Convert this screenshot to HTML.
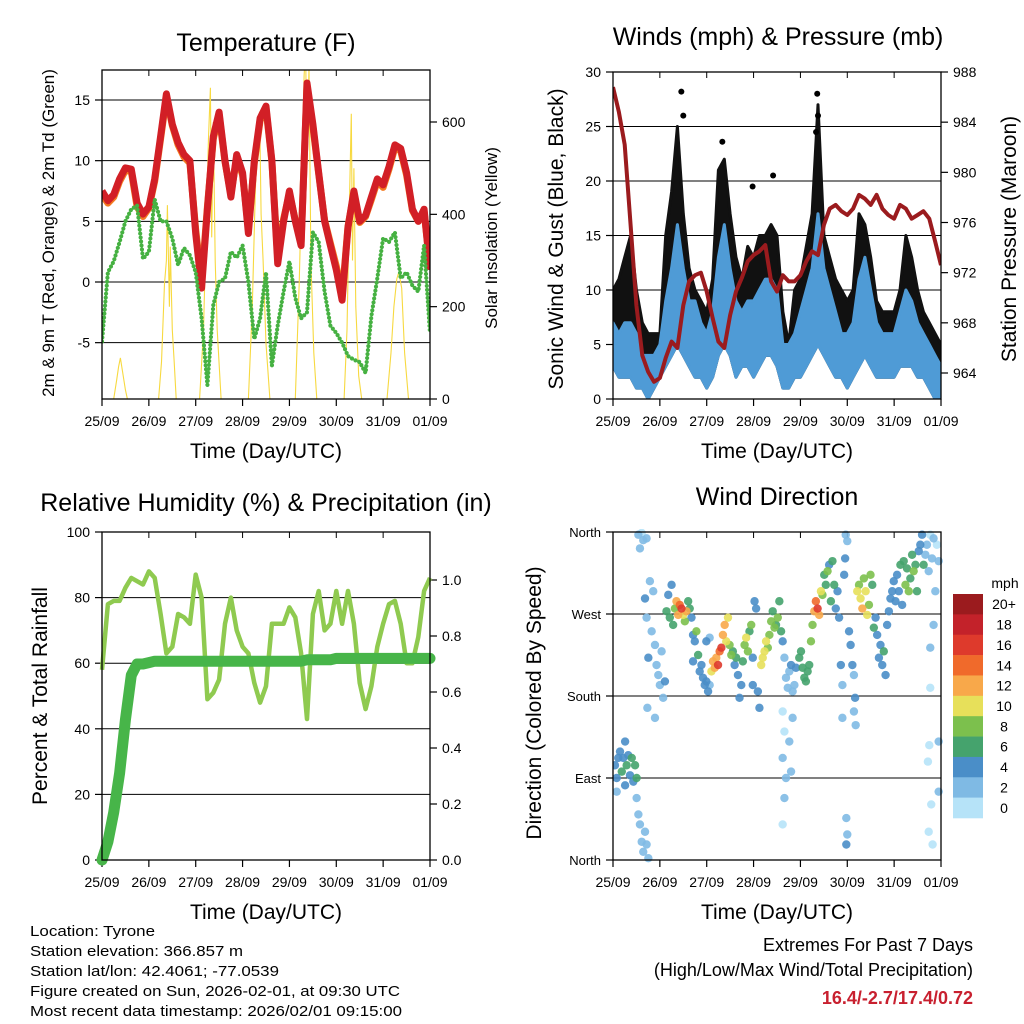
<!DOCTYPE html>
<html><head><meta charset="utf-8"><style>
html,body{margin:0;padding:0;background:#fff}
svg{display:block;font-family:"Liberation Sans",Arial,sans-serif}
</style></head><body>
<svg id="fig" width="1024" height="1024" viewBox="0 0 1024 1024" xmlns="http://www.w3.org/2000/svg">
<rect width="1024" height="1024" fill="#fff"/>
<g id="layer"></g>
<text x="266" y="51" font-size="25" text-anchor="middle">Temperature (F)</text>
<text x="778" y="45" font-size="25" text-anchor="middle">Winds (mph) &amp; Pressure (mb)</text>
<text x="266" y="511" font-size="25" text-anchor="middle">Relative Humidity (%) &amp; Precipitation (in)</text>
<text x="777" y="505" font-size="25" text-anchor="middle">Wind Direction</text>
<text x="266" y="458" font-size="21" text-anchor="middle">Time (Day/UTC)</text>
<text x="777" y="458" font-size="21" text-anchor="middle">Time (Day/UTC)</text>
<text x="266" y="919" font-size="21" text-anchor="middle">Time (Day/UTC)</text>
<text x="777" y="919" font-size="21" text-anchor="middle">Time (Day/UTC)</text>
<text transform="translate(54,233) rotate(-90)" font-size="17" text-anchor="middle">2m &amp; 9m T (Red, Orange) &amp; 2m Td (Green)</text>
<text transform="translate(497,238) rotate(-90)" font-size="17" text-anchor="middle">Solar Insolation (Yellow)</text>
<text transform="translate(563,239) rotate(-90)" font-size="21" text-anchor="middle">Sonic Wind &amp; Gust (Blue, Black)</text>
<text transform="translate(1016,239) rotate(-90)" font-size="21" text-anchor="middle">Station Pressure (Maroon)</text>
<text transform="translate(47,696) rotate(-90)" font-size="21" text-anchor="middle">Percent &amp; Total Rainfall</text>
<text transform="translate(541,703) rotate(-90)" font-size="21" text-anchor="middle">Direction (Colored By Speed)</text>
<g font-size="15">
<text x="30" y="936" textLength="125" lengthAdjust="spacingAndGlyphs">Location: Tyrone</text>
<text x="30" y="956" textLength="213" lengthAdjust="spacingAndGlyphs">Station elevation: 366.857 m</text>
<text x="30" y="976" textLength="249" lengthAdjust="spacingAndGlyphs">Station lat/lon: 42.4061; -77.0539</text>
<text x="30" y="996" textLength="370" lengthAdjust="spacingAndGlyphs">Figure created on Sun, 2026-02-01, at 09:30 UTC</text>
<text x="30" y="1016" textLength="372" lengthAdjust="spacingAndGlyphs">Most recent data timestamp: 2026/02/01 09:15:00</text>
</g>
<g font-size="18">
<text x="973" y="951" text-anchor="end">Extremes For Past 7 Days</text>
<text x="973" y="976" text-anchor="end">(High/Low/Max Wind/Total Precipitation)</text>
<text x="973" y="1004" text-anchor="end" font-weight="bold" fill="#c8202f">16.4/-2.7/17.4/0.72</text>
</g>
</svg>
<script>
// ---- data (3-hourly unless noted; hours since 25/09 00 UTC) ----
const dayLabels = ["25/09","26/09","27/09","28/09","29/09","30/09","31/09","01/09"];
const temp2m = [7.5,6.7,7.2,8.5,9.4,9.3,6.5,5.6,6.2,8.5,12,15.5,13,11.5,10.5,10,4,-0.5,6,12,14,10,7,10.5,9,4,10,13.5,14.5,10,1.5,5,7.5,5,3,16.4,13,9,5,3,1,-1.5,4.5,7.5,5,5.5,7,8.5,8,9.5,11.3,11,9,6,5,6,1];
const temp9m = [7.2,6.5,7,8.3,9.2,9.1,6.2,5.4,6.1,8.3,11.8,15.3,12.9,11.3,10.3,9.8,4.3,0,6.2,11.8,13.8,9.9,7.2,10.3,8.8,4.4,9.8,13.3,14.3,9.9,2,5.2,7.3,5.1,3.3,16.1,12.8,8.9,5.1,3.2,1.3,-1.2,4.6,7.3,4.9,5.4,6.8,8.3,7.8,9.3,11.1,10.8,8.8,5.9,5,5.8,1.3];
const dewpoint = [-4.9,0.8,1.7,3.3,5,6,6.3,1.9,2.5,6.8,5,5,3.6,1.4,2.8,2.2,0.8,-3,-8.5,-1.9,0,0.3,2.5,2,3,0,-4.7,-3,0.8,-6.9,-3.6,-0.8,1.7,-1.3,-3,-2.5,4.1,3.3,-0.8,-3.6,-4.2,-5,-6.1,-6.4,-6.6,-7.5,-2.8,0.3,3.6,3.3,4.1,0.3,0.8,-0.3,-0.8,3,-4.2];
const solarHours = [6,7.5,8.5,9.4,10.5,12,13, 29,30.5,32,33,33.5,34.5,35,36,37,38, 50,52,53.5,54.5,55.5,56.2,57,58,59,61, 75,77,78.5,80,80.7,81.5,82.5,84,86, 99,101,102.5,103.5,104.3,105,106,107,108.5,110, 124,125.5,126.5,127.7,128.3,129,130,131.5,133, 146,148,149.5,151,152,153.5,155,157];
const solarValues = [0,40,70,89,60,20,0, 0,80,250,300,420,200,330,150,80,0, 0,150,400,560,674,350,600,300,150,0, 0,200,450,600,622,400,300,120,0, 0,250,500,700,760,500,720,300,100,0, 0,150,380,618,300,500,200,50,0, 0,100,200,260,275,240,100,0];
const windLow = [3,2,2,2,1,1,0,1,2,3,4,5,4,3,2,2,1,2,4,5,4,2,3,3,2,3,4,4,3,1,1,2,2,3,4,5,4,3,2,2,1,2,3,4,3,2,2,2,2,3,3,3,2,2,1,0,0];
const windHigh = [7,6,7,7,6,4,4,4,5,9,12,16,12,9,9,7,6,8,13,16,12,9,8,9,9,10,11,11,10,5,5,6,8,10,12,17,12,10,8,6,6,7,11,13,10,7,6,6,6,8,10,9,7,6,5,4,3];
const gustHigh = [10,11,13,15,10,7,6,6,6,15,19,25,17,12,10,9,8,11,21,22,17,13,11,14,13,15,15,16,15,8,5,10,11,14,17,27,15,13,11,10,9,10,17,16,13,9,8,8,8,10,15,13,10,8,7,6,5];
const gustOutHours = [35,36,56,71.5,82,104.6,105,104];
const gustOutValues = [28.2,26,23.6,19.5,20.5,28,26,24.5];
const pressure = [986.8,984.8,982.2,975.8,969.4,965.4,964.1,963.3,963.6,965.2,966.5,966,969.4,971.3,971.8,972,970.5,968.4,966.5,966,968.6,970.5,971.6,972.9,973.4,973.7,974.2,971.3,970.5,971.8,971.3,971.3,971.8,972.9,973.7,973.4,975.8,977.1,977.4,976.9,976.6,977.1,978.2,977.9,977.4,978.2,977.1,976.6,976.3,977.4,977.1,976.3,976.6,976.9,976.3,974.5,972.6];
const relHum = [58,78,79,79,83,86,85,84,88,86,75,63,65,75,74,72,87,80,49,51,55,72,80,70,65,63,54,48,53,72,72,72,77,74,63,43,75,82,70,72,82,72,82,72,54,46,53,65,72,78,79,72,60,60,68,82,86];
const precip = [0,0.065,0.17,0.31,0.5,0.66,0.70,0.70,0.705,0.71,0.71,0.71,0.71,0.71,0.71,0.71,0.71,0.71,0.71,0.71,0.71,0.71,0.71,0.71,0.71,0.71,0.71,0.71,0.71,0.71,0.71,0.71,0.71,0.71,0.71,0.715,0.715,0.715,0.715,0.715,0.72,0.72,0.72,0.72,0.72,0.72,0.72,0.72,0.72,0.72,0.72,0.72,0.72,0.72,0.72,0.72,0.72];
const dirHours = [1,1.9,2.7,3.6,4.5,5.3,6.2,7,7.8,8.7,9.6,10.4,11.3,12.1,1.9,6.2, 12.1,13,13.8,14.7,15.5,16.4,17.2,18.1, 13,14.7,15.5,17.2,13.8, 16.4,17.2,18.1,18.9,19.8,20.6,21.5,22.3,23.2,24,24.9,25.7,17.6,21.5,26.6,
27.4,28.3,29.1,30,30.8,31.7,32.5,33.4,34.2,35.1,35.9,36.8,37.6,38.5,39.3,40.2,41,41.9,42.7,43.6,44.4,45.3,46.1,47,47.8,48.7,49.5,47.8,49.5,41,
50.4,51.2,52.1,52.9,53.8,54.6,55.5,56.3,57.2,58,58.9,59.7,60.6,61.4,62.3,63.1,64,64.8,65.7,66.5,67.4,68.2,69.1,69.9,70.8,71.6,71.6,72.5,73.3,74.2,75,
75.9,76.7,77.6,78.4,79.3,80.1,81,81.8,82.7,83.5,84.4,85.2,86.1,86.9,87.8,88.6,89.5,90.3,91.2,92,92.9,93.7,86.9,87.8,86.9,88.6,87.8,86.9,90.3,91.2,92,
95.4,96.3,97.1,98,98.8,99.7,100.5,101.4,102.2,103.1,103.9,104.8,105.6,106.5,107.3,108.2,109,109.9,110.7,111.6,112.4,113.3,114.1,115,115.8,116.7,117.5,117.5,118.4,118.9,
119.2,120,119.5,119.5,120,120.9,121.7,122.6,123.4,124,123.4,124.3,125.1,126,126.8,127.7,128.5,129.4,130.2,131.1,131.9,132.8,133.6,134.5,135.3,136.2,137,137.9,138.7,139.6,140.4,141.3,142.1,143,
143.8,144.7,145.5,146.4,147.2,148.1,148.9,149.8,150.6,151.5,152.3,153.2,154,154.9,155.7,156.6,157.4,158.3,159.1,160,160.8,161.7,162.5,163.4,164.2,165.1,165.9,166.8,162.5,162,161.3,163,161.7,163.7,166.8,166.8,162.5,164.2];
const dirDegrees = [104,90,112,119,97,112,82,104,115,93,112,86,104,90,75,130, 68,50,39,20,9,31,17,2, 357,359,351,353,342, 287,266,222,306,251,295,236,214,203,192,229,178,167,156,196,
273,291,266,302,258,276,284,269,280,276,269,262,273,284,276,266,247,240,251,225,207,214,200,192,196,185,192,240,244,218,
207,218,211,222,214,229,233,247,258,240,266,236,225,229,214,222,203,178,192,218,236,244,229,251,258,222,192,284,276,185,167,
214,222,229,240,233,247,262,273,255,258,266,284,251,240,222,200,189,207,214,185,192,211,163,141,112,90,68,39,130,97,156,
222,229,211,200,196,207,214,240,258,273,284,276,269,295,291,313,302,317,324,284,328,302,276,295,266,214,192,156,313,331,
357,350,46,17,28,251,236,214,203,178,163,148,295,302,287,276,309,295,269,280,313,302,255,266,247,222,236,214,229,203,258,273,287,295,
306,284,313,295,324,280,328,302,320,295,309,335,317,324,295,339,346,357,324,335,346,317,357,331,353,295,346,328,189,126,108,61,31,17,75,130,233,258];
const dirSpeeds = [4,5,4,4,6,5,4,6,4,5,6,4,6,6,3,4, 3,2,3,2,3,2,3,2, 2,1,2,3,2, 4,2,4,3,2,2,2,2,3,2,3,3,2,2,4,
6,5,7,4,6,9,12,13,15,17,10,9,12,6,7,4,5,4,8,6,4,4,4,5,4,4,3,4,2,4,
11,12,13,12,16,14,17,13,12,11,10,9,8,7,5,6,4,4,4,7,9,10,8,7,8,5,4,4,4,4,4,
10,11,10,10,9,8,8,7,9,7,8,6,7,4,3,2,2,3,4,2,3,4,1,1,2,2,2,1,3,3,2,
6,7,6,6,7,6,7,8,9,12,15,17,13,10,8,7,6,8,5,6,7,6,4,5,4,4,3,2,5,4,
3,3,2,4,3,4,4,4,3,4,3,3,10,9,10,12,9,11,10,8,9,6,6,5,4,4,4,4,6,4,4,4,4,5,
5,4,5,4,6,5,6,8,7,8,7,6,8,6,7,5,4,4,6,3,2,2,1,3,2,2,1,2,1,1,1,1,1,1,2,2,2,2];
const speedColors = ["#b6e3f8","#7fbae4","#4a8ec8","#45a36d","#7cc04d","#e7e05a","#f8a84a","#f06a2b","#de3a2c","#c3222a","#9b1b1e"];
const speedLabels = ["0","2","4","6","8","10","12","14","16","18","20+"];

// ---- drawing ----
const NS = "http://www.w3.org/2000/svg";
const layer = document.getElementById("layer");
function mk(tag, attrs, parent){ const e=document.createElementNS(NS,tag); for(const k in attrs) e.setAttribute(k,attrs[k]); (parent||layer).appendChild(e); return e; }
function lin(d0,d1,r0,r1){ return v => r0 + (v-d0)/(d1-d0)*(r1-r0); }
const idxHour = i => i*3;
function pathFrom(xs, ys){ return xs.map((x,i)=>(i?"L":"M")+x.toFixed(1)+","+ys[i].toFixed(1)).join(""); }

function frame(g, x0,y0,x1,y1, name){
  const r = mk("rect",{x:x0,y:y0,width:x1-x0,height:y1-y0,fill:"none",stroke:"#000","stroke-width":1.3},g);
  
  
}
function grid(g, x0, x1, y, name){
  const l = mk("line",{x1:x0,x2:x1,y1:y,y2:y,stroke:"#000","stroke-width":1},g);
  
  
}
function xAxis(g, x0,x1,y0,y1,name){
  const sx = lin(0,168,x0,x1);
  dayLabels.forEach((lab,i)=>{
    const x = sx(i*24);
    mk("line",{x1:x,x2:x,y1:y1,y2:y1+7,stroke:"#000","stroke-width":1.2},g);
    mk("line",{x1:x,x2:x,y1:y0,y2:y0+6,stroke:"#000","stroke-width":1},g);
    const t = mk("text",{x:x,y:y1+27,"font-size":14,"text-anchor":"middle"},g);
    t.textContent = lab;
    
    
  });
  return sx;
}
function yTicks(g, vals, labels, sy, x, side, name, fs){
  vals.forEach((v,i)=>{
    const y = sy(v);
    mk("line",{x1:x,x2:x+(side<0?-7:7),y1:y,y2:y,stroke:"#000","stroke-width":1.2},g);
    const t = mk("text",{x:x+(side<0?-12:12),y:y+5,"font-size":fs||14,"text-anchor":side<0?"end":"start"},g);
    t.textContent = labels[i];
    
    
  });
}

// Panel 1: temperature
(function(){
  const g = mk("g",{});  
  const X0=102,X1=430,Y0=70,Y1=399;
  const sx = xAxis(g,X0,X1,Y0,Y1,'temp');
  const sy = lin(0,15,282,100);
  const ss = lin(0,600,399,122);
  [15,10,5,0,-5].forEach(v=>grid(g,X0,X1,sy(v),'temp-grid-'+v));
  yTicks(g,[15,10,5,0,-5],["15","10","5","0","-5"],sy,X0,-1,'temp-y');
  yTicks(g,[600,400,200,0],["600","400","200","0"],ss,X1,1,'solar-y');
  const clip = mk("clipPath",{id:"c1"},g); mk("rect",{x:X0,y:Y0,width:X1-X0,height:Y1-Y0},clip);
  const pg = mk("g",{"clip-path":"url(#c1)"},g);
  const sol = mk("path",{d:pathFrom(solarHours.map(sx),solarValues.map(ss)),fill:"none",stroke:"#f7d940","stroke-width":1.1},pg);
   
  const xs = temp2m.map((v,i)=>sx(idxHour(i)));
  const o = mk("path",{d:pathFrom(xs,temp9m.map(sy)),fill:"none",stroke:"#f47a20","stroke-width":7,"stroke-linejoin":"round"},pg);
   
  const r = mk("path",{d:pathFrom(xs,temp2m.map(sy)),fill:"none",stroke:"#d21f26","stroke-width":7,"stroke-linejoin":"round"},pg);
   
  const d = mk("path",{d:pathFrom(xs,dewpoint.map(sy)),fill:"none",stroke:"#46b142","stroke-width":4.2,"stroke-dasharray":"0 4","stroke-linecap":"round","stroke-linejoin":"round"},pg);
   
  frame(g,X0,Y0,X1,Y1,'temp');
})();

// Panel 2: winds & pressure
(function(){
  const g = mk("g",{});  
  const X0=613,X1=941,Y0=72,Y1=399;
  const sx = xAxis(g,X0,X1,Y0,Y1,'wind');
  const sy = lin(0,30,399,72);
  const sp = lin(964,988,373,72);
  [5,10,15,20,25].forEach(v=>grid(g,X0,X1,sy(v),'wind-grid-'+v));
  yTicks(g,[30,25,20,15,10,5,0],["30","25","20","15","10","5","0"],sy,X0,-1,'wind-y');
  yTicks(g,[988,984,980,976,972,968,964],["988","984","980","976","972","968","964"],sp,X1,1,'pressure-y');
  const clip = mk("clipPath",{id:"c2"},g); mk("rect",{x:X0,y:Y0,width:X1-X0,height:Y1-Y0},clip);
  const pg = mk("g",{"clip-path":"url(#c2)"},g);
  const xs = windLow.map((v,i)=>sx(idxHour(i)));
  const band = (lo,hi,fill,name)=>{
    const d = pathFrom(xs,hi.map(sy)) + pathFrom(xs.slice().reverse(), lo.map(sy).reverse()).replace("M","L") + "Z";
    const p = mk("path",{d:d,fill:fill,stroke:fill,"stroke-width":3,"stroke-linejoin":"round"},pg);
     
  };
  band(windLow,gustHigh,"#111",'gust-band');
  band(windLow,windHigh,"#4f9bd6",'wind-band');
  gustOutHours.forEach((h,i)=>{
    const c = mk("circle",{cx:sx(h),cy:sy(gustOutValues[i]),r:3,fill:"#000"},pg);
     
  });
  const p = mk("path",{d:pathFrom(pressure.map((v,i)=>sx(idxHour(i))),pressure.map(sp)),fill:"none",stroke:"#9b1b1e","stroke-width":4,"stroke-linejoin":"round"},pg);
   
  frame(g,X0,Y0,X1,Y1,'wind');
})();

// Panel 3: RH & precip
(function(){
  const g = mk("g",{});  
  const X0=102,X1=430,Y0=532,Y1=860;
  const sx = xAxis(g,X0,X1,Y0,Y1,'rh');
  const sy = lin(0,100,860,532);
  const sr = lin(0,1,860,580);
  [20,40,60,80].forEach(v=>grid(g,X0,X1,sy(v),'rh-grid-'+v));
  yTicks(g,[100,80,60,40,20,0],["100","80","60","40","20","0"],sy,X0,-1,'rh-y');
  yTicks(g,[1,0.8,0.6,0.4,0.2,0],["1.0","0.8","0.6","0.4","0.2","0.0"],sr,X1,1,'precip-y');
  const clip = mk("clipPath",{id:"c3"},g); mk("rect",{x:X0-6,y:Y0,width:X1-X0+12,height:Y1-Y0+6},clip);
  const pg = mk("g",{"clip-path":"url(#c3)"},g);
  const xs = relHum.map((v,i)=>sx(idxHour(i)));
  const a = mk("path",{d:pathFrom(xs,relHum.map(sy)),fill:"none",stroke:"#8fca50","stroke-width":4.5,"stroke-linejoin":"round"},pg);
   
  const b = mk("path",{d:pathFrom(xs,precip.map(sr)),fill:"none",stroke:"#47b549","stroke-width":11,"stroke-linejoin":"round","stroke-linecap":"round"},pg);
   
  frame(g,X0,Y0,X1,Y1,'rh');
})();

// Panel 4: wind direction
(function(){
  const g = mk("g",{});  
  const X0=613,X1=941,Y0=532,Y1=860;
  const sx = xAxis(g,X0,X1,Y0,Y1,'dir');
  const sy = lin(0,360,860,532);
  [90,180,270].forEach(v=>grid(g,X0,X1,sy(v),'dir-grid-'+v));
  yTicks(g,[360,270,180,90,0],["North","West","South","East","North"],sy,X0,-1,'dir-y',13);
  const clip = mk("clipPath",{id:"c4"},g); mk("rect",{x:X0,y:Y0-3,width:X1-X0+3,height:Y1-Y0+6},clip);
  const pg = mk("g",{"clip-path":"url(#c4)"},g);
  const order = dirSpeeds.map((s,i)=>i).sort((a,b)=>dirSpeeds[a]-dirSpeeds[b]);
  order.forEach(i=>{
    const bin = Math.min(10, Math.floor(dirSpeeds[i]/2));
    const c = mk("circle",{cx:sx(dirHours[i]),cy:sy(dirDegrees[i]),r:4.2,fill:speedColors[bin],"fill-opacity":0.9},pg);
     
  });
  frame(g,X0,Y0,X1,Y1,'dir');
  const cb = mk("g",{});  
  const t = mk("text",{x:1005,y:588,"font-size":14,"text-anchor":"middle"},cb); t.textContent="mph";
   
  const h = 224/11;
  speedColors.slice().reverse().forEach((col,k)=>{
    const y = 594 + k*h;
    const r = mk("rect",{x:953,y:y,width:30,height:h+0.3,fill:col},cb);
     
    const lt = mk("text",{x:1004,y:y+h/2+5,"font-size":14,"text-anchor":"middle"},cb);
    lt.textContent = speedLabels[10-k];
     
  });
})();
</script>
</body></html>
